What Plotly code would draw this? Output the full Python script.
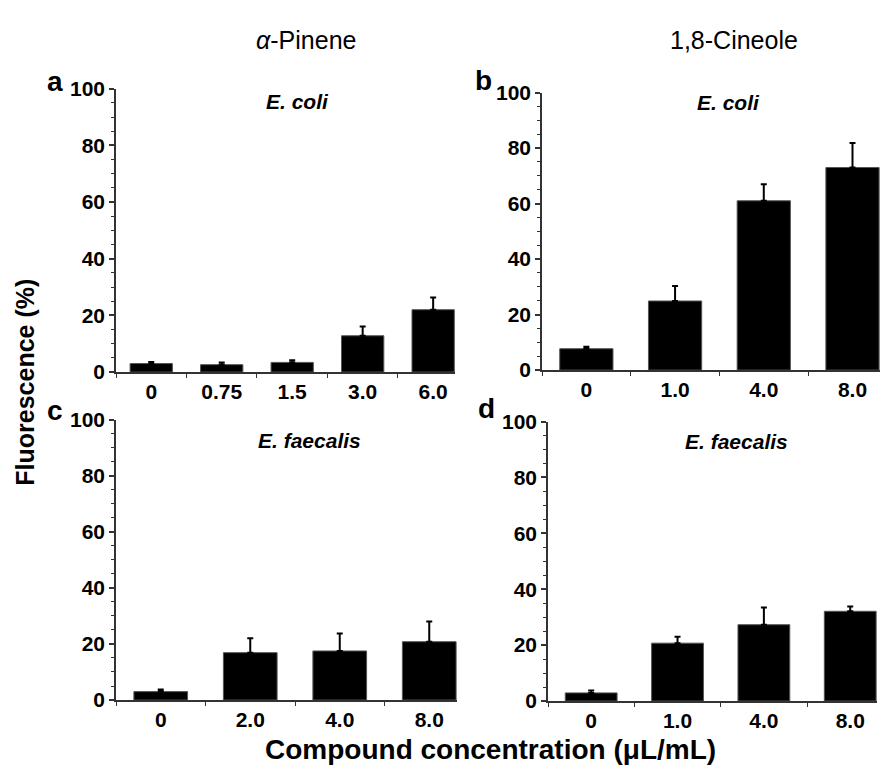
import plotly.graph_objects as go

# ---- data ----
a_labels = ["0", "0.75", "1.5", "3.0", "6.0"]
a_values = [3.0, 2.6, 3.4, 12.8, 22.0]
a_errors = [0.5, 0.8, 0.8, 3.3, 4.3]

b_labels = ["0", "1.0", "4.0", "8.0"]
b_values = [7.7, 24.9, 61.0, 73.0]
b_errors = [0.7, 5.4, 6.0, 8.8]

c_labels = ["0", "2.0", "4.0", "8.0"]
c_values = [3.0, 16.9, 17.5, 20.8]
c_errors = [0.8, 5.1, 6.2, 7.2]

d_labels = ["0", "1.0", "4.0", "8.0"]
d_values = [2.9, 20.7, 27.3, 32.1]
d_errors = [0.9, 2.3, 6.2, 1.7]

y_ticks = [0, 20, 40, 60, 80, 100]
col_titles = ["<i>α</i>-Pinene", "1,8-Cineole"]
species = ["E. coli", "E. coli", "E. faecalis", "E. faecalis"]
panel_letters = ["a", "b", "c", "d"]

W, H = 887, 778
FONT = "Arial, Liberation Sans, sans-serif"

# panel pixel boxes: (x0, x1, ytop, ybottom)
boxes = [(116, 455, 79, 371), (542, 880, 83, 369), (116, 457, 420, 709), (548, 877, 422, 710)]
panels = [(a_labels, a_values, a_errors), (b_labels, b_values, b_errors),
          (c_labels, c_values, c_errors), (d_labels, d_values, d_errors)]

fig = go.Figure()
layout = dict(
    width=W, height=H,
    margin=dict(l=0, r=0, t=0, b=0),
    paper_bgcolor="white", plot_bgcolor="white",
    showlegend=False, bargap=0.4,
    font=dict(family=FONT, color="black"),
)

for i, ((labels, vals, errs), (x0, x1, yt, yb)) in enumerate(zip(panels, boxes)):
    n = len(labels)
    xs = list(range(n))
    xa = "x" if i == 0 else f"x{i+1}"
    ya = "y" if i == 0 else f"y{i+1}"
    fig.add_trace(go.Bar(
        x=xs, y=vals, xaxis=xa, yaxis=ya,
        marker=dict(color="black", line=dict(color="#555555", width=1)),
        error_y=dict(type="data", symmetric=False, array=errs,
                     arrayminus=[0] * n, color="black", thickness=2, width=3),
        width=0.6,
    ))
    xkey = "xaxis" if i == 0 else f"xaxis{i+1}"
    ykey = "yaxis" if i == 0 else f"yaxis{i+1}"
    layout[xkey] = dict(
        domain=[x0 / W, x1 / W], anchor=ya,
        range=[-0.5, n - 1 + 0.31],
        tickmode="array", tickvals=xs, ticktext=labels,
        ticks="", showgrid=False, zeroline=False,
        showline=True, linecolor="#333333", linewidth=1.5,
        tickfont=dict(family=FONT, size=21, weight="bold", color="black"),
        minor=dict(tick0=0.5, dtick=1, ticks="outside", ticklen=4,
                   tickcolor="#333333", tickwidth=1.2, showgrid=False),
        fixedrange=True,
    )
    layout[ykey] = dict(
        domain=[1 - yb / H, 1 - yt / H], anchor=xa,
        range=[0, 100],
        tickmode="array", tickvals=y_ticks,
        ticks="outside", ticklen=5, tickwidth=1.5, tickcolor="#333333",
        showgrid=False, zeroline=False,
        showline=True, linecolor="#333333", linewidth=1.5,
        tickfont=dict(family=FONT, size=21, weight="bold", color="black"),
        minor=dict(dtick=5, ticks="outside", ticklen=3, tickwidth=1,
                   tickcolor="#333333", showgrid=False),
        fixedrange=True,
    )

ann = []
# column titles
for txt, cx in zip(col_titles, [306, 734]):
    ann.append(dict(text=txt, x=cx / W, y=1 - 29 / H, xref="paper", yref="paper",
                    showarrow=False, xanchor="center", yanchor="middle",
                    font=dict(family=FONT, size=25, color="black")))
# panel letters
for txt, (px, py) in zip(panel_letters, [(55, 72), (483, 71), (55, 411), (487, 409)]):
    ann.append(dict(text=txt, x=px / W, y=1 - py / H, xref="paper", yref="paper",
                    showarrow=False, xanchor="center", yanchor="middle",
                    font=dict(family=FONT, size=28, weight="bold", color="black")))
# species labels
for txt, (px, py) in zip(species, [(297, 92), (728, 93), (309, 442), (736, 443)]):
    ann.append(dict(text=f"<i>{txt}</i>", x=px / W, y=1 - py / H, xref="paper", yref="paper",
                    showarrow=False, xanchor="center", yanchor="middle",
                    font=dict(family=FONT, size=21, weight="bold", color="black")))
# axis titles
ann.append(dict(text="Fluorescence (%)", x=25 / W, y=1 - 382 / H, xref="paper", yref="paper",
                showarrow=False, xanchor="center", yanchor="middle", textangle=-90,
                font=dict(family=FONT, size=25, weight="bold", color="black")))
ann.append(dict(text="Compound concentration (μL/mL)", x=490 / W, y=1 - 760 / H,
                xref="paper", yref="paper",
                showarrow=False, xanchor="center", yanchor="middle",
                font=dict(family=FONT, size=28, weight="bold", color="black")))
layout["annotations"] = ann

fig.update_layout(**layout)
fig.write_html("out.html",
               config={"displayModeBar": False},
               post_script="document.body.style.margin='0';document.body.style.overflow='hidden';")
